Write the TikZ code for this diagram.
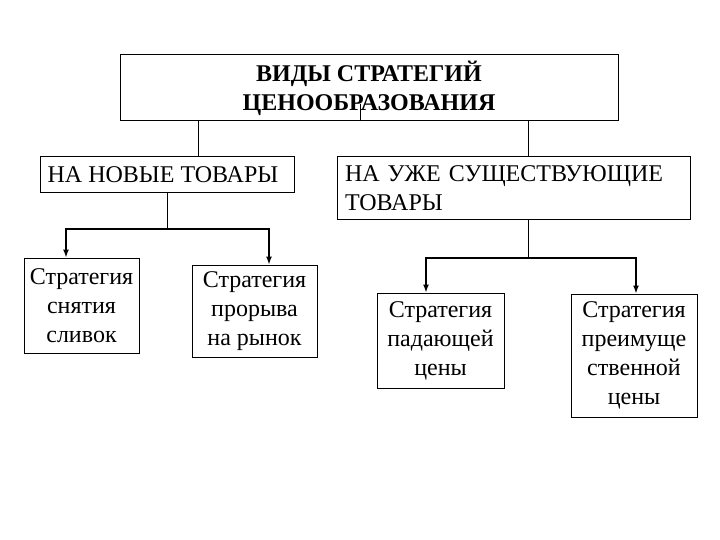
\documentclass[tikz,border=0pt]{standalone}
\usepackage{fontspec}
\setmainfont{Liberation Serif}
\usetikzlibrary{arrows.meta}
\tikzset{every node/.style={align=center}}
\tikzstyle{box} = [draw, line width=1pt, inner sep=0pt, font=\fontsize{24}{29}\selectfont]
\tikzstyle{arr} = [-{Latex[length=8pt,width=6pt]}, line width=1.4pt]

\begin{document}
\begin{tikzpicture}[x=1pt, y=-1pt]
		\useasboundingbox (0,0) rectangle (720,540);
		
		% Boxes
		\node[box, minimum width=498, minimum height=66, font=\bfseries\fontsize{24}{29}\selectfont] (vidy) at (369,88) {ВИДЫ СТРАТЕГИЙ\\ЦЕНООБРАЗОВАНИЯ};
		\node[box, minimum width=254, minimum height=36] (nov) at (167,175) {\hspace*{-8pt}НА НОВЫЕ ТОВАРЫ};
		\node[box, minimum width=353, minimum height=63, align=left, text width=337, inner xsep=8pt] (sush) at (513.5,188.5) {НА УЖЕ СУЩЕСТВУЮЩИЕ\\ТОВАРЫ};
		%% Strategies
		\node[box, minimum width=115, minimum height=95] (sliv) at (81.5,305.5) {Стратегия\\снятия\\сливок};
		\node[box, minimum width=125, minimum height=92] (pror) at (254.5,311) {Стратегия\\прорыва\\на рынок};
		\node[box, minimum width=127, minimum height=95] (pad) at (440.5,340.5) {Стратегия\\падающей\\цены};
		\node[box, minimum width=126, minimum height=123] (preim) at (634,355.5) {Стратегия\\преимуще\\ственной\\цены};
		
		% Connectors
		\draw[line width=1pt] (vidy.south -| 360,0) -- ++(0,-17);
		\draw[line width=1pt] (vidy.south -| 198,0) -- (nov.north -| 198,0);
		\draw[line width=1pt] (vidy.south -| 528,0) -- (sush.north -| 528,0);
		%% New goods
		\coordinate (j1) at (nov.south |- 0,229);
		\draw[line width=1pt] (nov.south) -- (j1);
		\draw[arr] (j1) -| (sliv.north -| 66,0);
		\draw[arr] (j1) -| (pror.north -| 269,0);
		%% Existing goods
		\coordinate (j2) at (528,258);
		\draw[line width=1pt] (sush.south -| j2) -- (j2);
		\draw[arr] (j2) -| (pad.north -| 426,0);
		\draw[arr] (j2) -| (preim.north -| 636,0);
	\end{tikzpicture}
\end{document}
